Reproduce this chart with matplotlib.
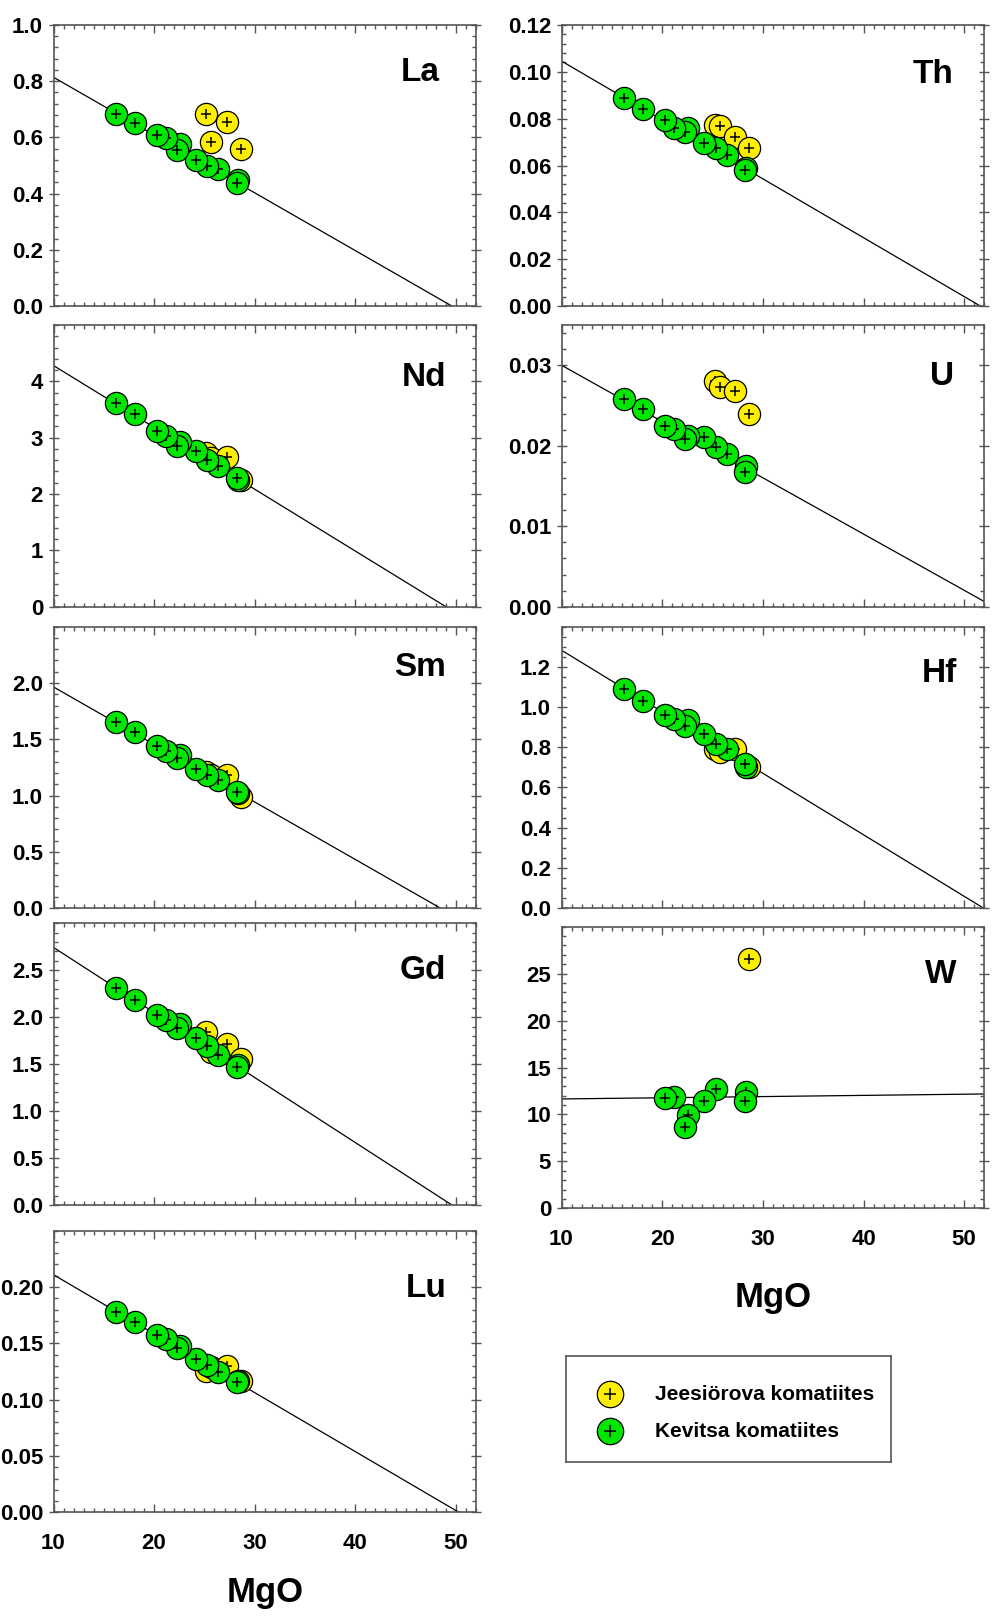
import numpy as np
import matplotlib
matplotlib.use("Agg")
import matplotlib.pyplot as plt
from matplotlib import font_manager
from matplotlib.ticker import MultipleLocator, FixedLocator, FuncFormatter

# ---------------- data ----------------
elements = ["La", "Th", "Nd", "U", "Sm", "Hf", "Gd", "W", "Lu"]

# MgO (wt%) of samples
mgo_kevitsa = [16.2, 18.1, 20.3, 21.2, 22.3, 22.6, 24.2, 25.3, 26.4, 28.2, 28.3]
mgo_jeesiorova = [25.2, 25.7, 27.2, 28.6]

nan = np.nan
kev_La = [0.682, 0.650, 0.609, 0.597, 0.555, 0.577, 0.520, 0.499, 0.488, 0.439, 0.448]
kev_Th = [0.0890, 0.0843, 0.0794, 0.0762, 0.0745, 0.0762, 0.0695, 0.0673, 0.0645, 0.0581, 0.0590]
kev_Nd = [3.615, 3.42, 3.11, 3.03, 2.86, 2.93, 2.76, 2.61, 2.50, 2.28, 2.24]
kev_U = [0.02586, 0.02462, 0.02243, 0.02205, 0.02089, 0.0212, 0.0211, 0.0198, 0.0190, 0.01676, 0.01746]
kev_Sm = [1.654, 1.566, 1.442, 1.394, 1.338, 1.36, 1.241, 1.182, 1.137, 1.034, 1.02]
kev_Hf = [1.092, 1.030, 0.962, 0.939, 0.904, 0.934, 0.868, 0.818, 0.793, 0.718, 0.70]
kev_Gd = [2.308, 2.188, 2.028, 1.975, 1.883, 1.93, 1.777, 1.692, 1.593, 1.469, 1.49]
kev_W = [nan, nan, 11.72, 11.83, 8.65, 9.96, 11.4, 12.71, nan, 11.48, 12.36]
kev_Lu = [0.178, 0.169, 0.157, 0.1535, 0.1456, 0.148, 0.136, 0.131, 0.125, 0.1153, 0.117]

jee_La = [0.682, 0.585, 0.655, 0.559]
jee_Th = [0.0775, 0.0769, 0.0720, 0.0676]
jee_Nd = [2.73, 2.64, 2.65, 2.25]
jee_U = [0.0281, 0.0273, 0.0268, 0.0239]
jee_Sm = [1.21, 1.18, 1.18, 0.99]
jee_Hf = [0.79, 0.776, 0.793, 0.701]
jee_Gd = [1.84, 1.63, 1.71, 1.55]
jee_W = [nan, nan, nan, 26.55]
jee_Lu = [0.1256, 0.129, 0.130, 0.117]

# regression line: value at MgO = 10 and at MgO = 52
fit_mgo = [10, 52]
fit_La = [0.814, -0.0495]
fit_Th = [0.1046, -0.0010]
fit_Nd = [4.28, -0.329]
fit_U = [0.0300, 0.00064]
fit_Sm = [1.965, -0.179]
fit_Hf = [1.283, -0.003]
fit_Gd = [2.743, -0.166]
fit_W = [11.65, 12.18]
fit_Lu = [0.2109, -0.0089]

# y-axis setup
y_max = {"La": 1.0, "Th": 0.12, "Nd": 5.0, "U": 0.035, "Sm": 2.5,
         "Hf": 1.4, "Gd": 3.0, "W": 30, "Lu": 0.25}
y_major = {"La": [0.0, 0.2, 0.4, 0.6, 0.8, 1.0],
           "Th": [0.00, 0.02, 0.04, 0.06, 0.08, 0.10, 0.12],
           "Nd": [0, 1, 2, 3, 4],
           "U": [0.00, 0.01, 0.02, 0.03],
           "Sm": [0.0, 0.5, 1.0, 1.5, 2.0],
           "Hf": [0.0, 0.2, 0.4, 0.6, 0.8, 1.0, 1.2],
           "Gd": [0.0, 0.5, 1.0, 1.5, 2.0, 2.5],
           "W": [0, 5, 10, 15, 20, 25],
           "Lu": [0.00, 0.05, 0.10, 0.15, 0.20]}
y_minor = {"La": 0.04, "Th": 0.004, "Nd": 0.2, "U": 0.002, "Sm": 0.1,
           "Hf": 0.05, "Gd": 0.1, "W": 1, "Lu": 0.01}
y_dec = {"La": 1, "Th": 2, "Nd": 0, "U": 2, "Sm": 1, "Hf": 1, "Gd": 1, "W": 0, "Lu": 2}

x_ticks = [10, 20, 30, 40, 50]
x_label = "MgO"
series_names = ["Jeesiörova komatiites", "Kevitsa komatiites"]

kev = {"La": kev_La, "Th": kev_Th, "Nd": kev_Nd, "U": kev_U, "Sm": kev_Sm,
       "Hf": kev_Hf, "Gd": kev_Gd, "W": kev_W, "Lu": kev_Lu}
jee = {"La": jee_La, "Th": jee_Th, "Nd": jee_Nd, "U": jee_U, "Sm": jee_Sm,
       "Hf": jee_Hf, "Gd": jee_Gd, "W": jee_W, "Lu": jee_Lu}
fits = {"La": fit_La, "Th": fit_Th, "Nd": fit_Nd, "U": fit_U, "Sm": fit_Sm,
        "Hf": fit_Hf, "Gd": fit_Gd, "W": fit_W, "Lu": fit_Lu}

# ---------------- style ----------------
avail = {f.name for f in font_manager.fontManager.ttflist}
fam = "Liberation Sans Narrow" if "Liberation Sans Narrow" in avail else "Liberation Sans"
plt.rcParams["font.family"] = [fam, "DejaVu Sans"]
plt.rcParams["font.weight"] = "bold"

YELLOW = "#ffee00"
GREEN = "#00e600"
FRAME = "#555555"

# element label anchor (axes fraction, right edge / baseline)
label_pos = {"La": (0.915, 0.801), "Th": (0.928, 0.794), "Nd": (0.929, 0.783),
             "U": (0.928, 0.787), "Sm": (0.929, 0.825), "Hf": (0.935, 0.805),
             "Gd": (0.929, 0.802), "W": (0.935, 0.800), "Lu": (0.930, 0.765)}

fig = plt.figure(figsize=(9.94, 16.18), dpi=100)
W_, H_ = 994.0, 1618.0

def ax_rect(x0, x1, ytop, ybot):
    return [x0 / W_, 1 - ybot / H_, (x1 - x0) / W_, (ybot - ytop) / H_]

LX = (53.5, 476.0)
RX = (561.5, 984.3)
rects = {
    "La": ax_rect(*LX, 25, 306),
    "Th": ax_rect(*RX, 25, 306),
    "Nd": ax_rect(*LX, 325, 606.7),
    "U": ax_rect(*RX, 325, 606.7),
    "Sm": ax_rect(*LX, 626.7, 908.3),
    "Hf": ax_rect(*RX, 626.7, 908),
    "Gd": ax_rect(*LX, 923.3, 1205),
    "W": ax_rect(*RX, 926.7, 1208.3),
    "Lu": ax_rect(*LX, 1230.7, 1512.3),
}
xlabel_pad = {"W": 22, "Lu": 16}

MS = 16.0    # circle marker size (pt)
CS = 7.0     # cross size

for el in elements:
    ax = fig.add_axes(rects[el])
    ax.set_xlim(10, 52)
    ax.set_ylim(0, y_max[el])

    # regression line
    ax.plot(fit_mgo, fits[el], color="black", lw=0.9, zorder=2)

    z = 3
    # Jeesiörova first (ascending order)
    for x, y in zip(mgo_jeesiorova, jee[el]):
        if np.isnan(y):
            continue
        ax.plot([x], [y], "o", ms=MS, mfc=YELLOW, mec="black", mew=0.9, zorder=z)
        ax.plot([x], [y], "+", ms=CS, color="black", mew=1.1, zorder=z + 0.5)
        z += 1
    # Kevitsa on top (high MgO first so low MgO ends on top)
    for x, y in list(zip(mgo_kevitsa, kev[el]))[::-1]:
        if np.isnan(y):
            continue
        ax.plot([x], [y], "o", ms=MS, mfc=GREEN, mec="black", mew=0.9, zorder=z)
        ax.plot([x], [y], "+", ms=CS, color="black", mew=1.1, zorder=z + 0.5)
        z += 1

    # ticks
    ax.xaxis.set_major_locator(FixedLocator(x_ticks))
    ax.xaxis.set_minor_locator(MultipleLocator(1))
    ax.yaxis.set_major_locator(FixedLocator(y_major[el]))
    ax.yaxis.set_minor_locator(MultipleLocator(y_minor[el]))
    d = y_dec[el]
    ax.yaxis.set_major_formatter(FuncFormatter(lambda v, p, d=d: f"{v:.{d}f}"))
    ax.tick_params(axis="x", which="both", direction="in", top=True, bottom=True,
                   color=FRAME, width=1.0)
    ax.tick_params(axis="x", which="major", length=6)
    ax.tick_params(axis="x", which="minor", length=3)
    ax.tick_params(axis="y", which="major", direction="inout", left=True, right=True,
                   length=7, color=FRAME, width=1.0)
    ax.tick_params(axis="y", which="minor", direction="in", left=True, right=True,
                   length=3, color=FRAME, width=1.0)
    ax.tick_params(axis="y", labelsize=16, pad=4)
    for lab in ax.get_yticklabels():
        lab.set_fontweight("bold")
    if el in xlabel_pad:
        ax.tick_params(axis="x", labelsize=16, pad=15)
        for lab in ax.get_xticklabels():
            lab.set_fontweight("bold")
        ax.set_xlabel(x_label, fontsize=25, fontweight="bold", labelpad=xlabel_pad[el])
    else:
        ax.tick_params(axis="x", labelbottom=False)
    for s in ax.spines.values():
        s.set_color(FRAME)
        s.set_linewidth(1.2)

    lx, ly = label_pos[el]
    ax.text(lx, ly, el, transform=ax.transAxes, ha="right", va="baseline",
            fontsize=24, fontweight="bold")

# legend panel
lax = fig.add_axes(ax_rect(565.7, 890.7, 1356, 1461.7))
lax.set_xlim(0, 1)
lax.set_ylim(0, 1)
lax.set_xticks([])
lax.set_yticks([])
for s in lax.spines.values():
    s.set_color(FRAME)
    s.set_linewidth(1.2)
leg_y = [0.64, 0.29]
leg_c = [YELLOW, GREEN]
for name, yy, c in zip(series_names, leg_y, leg_c):
    lax.plot([0.135], [yy], "o", ms=19, mfc=c, mec="black", mew=0.9)
    lax.plot([0.135], [yy], "+", ms=8, color="black", mew=1.1)
    lax.text(0.275, yy, name, ha="left", va="center", fontsize=15, fontweight="bold")

fig.savefig("out.png", dpi=100)
